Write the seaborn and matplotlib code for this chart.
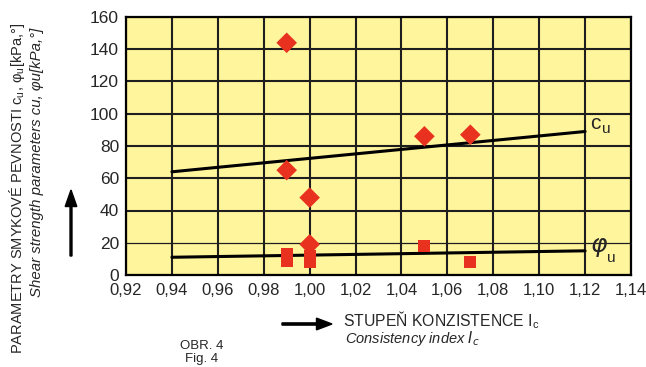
import matplotlib
matplotlib.use("Agg")
import matplotlib.pyplot as plt
import seaborn as sns
import pandas as pd

# measured points
cu_ic = [0.99, 0.99, 1.00, 1.00, 1.05, 1.07]
cu_val = [144, 65, 48, 19, 86, 87]
phi_ic = [0.99, 0.99, 1.00, 1.00, 1.05, 1.07]
phi_val = [13, 9, 12, 8, 18, 8]

# fitted trend lines
line_ic = [0.94, 1.12]
cu_line = [64, 89]
phi_line = [11, 15]

x_ticks = [0.92, 0.94, 0.96, 0.98, 1.00, 1.02, 1.04, 1.06, 1.08, 1.10, 1.12, 1.14]
y_ticks = [0, 20, 40, 60, 80, 100, 120, 140, 160]

sns.set_theme(style="white")
plt.rcParams["font.family"] = ["Liberation Sans", "DejaVu Sans"]

fig = plt.figure(figsize=(6.46, 3.67), dpi=100)
ax = fig.add_axes([126 / 646, 1 - 275 / 367, 505 / 646, 258 / 367])
ax.set_facecolor("#fff59c")

for xt in x_ticks:
    ax.axvline(xt, color="#1e1e1e", lw=1.5, zorder=1)
for yt in y_ticks:
    ax.axhline(yt, color="#1e1e1e", lw=0.9 if yt == 20 else 1.5, zorder=1)

lines = pd.DataFrame({"Ic": line_ic + line_ic,
                      "val": cu_line + phi_line,
                      "param": ["cu"] * 2 + ["phi"] * 2})
sns.lineplot(data=lines, x="Ic", y="val", units="param", estimator=None,
             color="black", lw=2.2, ax=ax, zorder=3)

red = "#e8321f"
sns.scatterplot(x=cu_ic, y=cu_val, marker="D", s=110, color=red,
                edgecolor="none", ax=ax, zorder=4)
sns.scatterplot(x=phi_ic, y=phi_val, marker="s", s=75, color=red,
                edgecolor="none", ax=ax, zorder=4)

ax.text(line_ic[1] + 0.002, cu_line[1] - 1, "c", fontsize=15, va="bottom", ha="left")
ax.text(line_ic[1] + 0.0075, cu_line[1] - 3, "u", fontsize=11, va="bottom", ha="left")
ax.text(line_ic[1] + 0.002, phi_line[1] - 5, r"$\varphi$", fontsize=18, va="bottom", ha="left")
ax.text(line_ic[1] + 0.0095, phi_line[1] - 9, "u", fontsize=11, va="bottom", ha="left")

ax.set_xlim(0.92, 1.14)
ax.set_ylim(0, 160)
ax.set_xticks(x_ticks)
ax.set_xticklabels([f"{v:.2f}".replace(".", ",") for v in x_ticks], fontsize=12)
ax.set_yticks(y_ticks)
ax.set_yticklabels([str(v) for v in y_ticks], fontsize=12.5)
ax.tick_params(length=0, pad=5)
ax.tick_params(axis="x", pad=6)
ax.set_xlabel("")
ax.set_ylabel("")
for sp in ax.spines.values():
    sp.set_color("black")
    sp.set_linewidth(1.6)

# y axis title
fig.text(17 / 646, 1 - 188 / 367,
         r"PARAMETRY SMYKOVÉ PEVNOSTI c$_\mathregular{u}$, φ$_\mathregular{u}$[kPa,°]",
         rotation=90, ha="center", va="center", fontsize=10.5)
fig.text(37 / 646, 1 - 162 / 367, "Shear strength parameters cu, φu[kPa,°]",
         rotation=90, ha="center", va="center", fontsize=10.8, style="italic")
fig.patches.append(matplotlib.patches.FancyArrow(
    71 / 646, 1 - 256 / 367, 0, 66 / 367, width=0.003, head_width=0.018,
    head_length=0.045, length_includes_head=True, color="black",
    transform=fig.transFigure, figure=fig))

# x axis title
fig.patches.append(matplotlib.patches.FancyArrow(
    282 / 646, 1 - 324 / 367, 50 / 646, 0, width=0.006, head_width=0.032,
    head_length=0.024, length_includes_head=True, color="black",
    transform=fig.transFigure, figure=fig))
fig.text(343 / 646, 1 - 320 / 367, r"STUPEŇ KONZISTENCE I$_\mathregular{c}$",
         ha="left", va="center", fontsize=11.3)
fig.text(345 / 646, 1 - 339 / 367, r"Consistency index $\mathit{I_c}$",
         ha="left", va="center", fontsize=10.5, style="italic")

fig.text(202 / 646, 1 - 346 / 367, "OBR. 4", ha="center", va="center", fontsize=9.5)
fig.text(202 / 646, 1 - 359 / 367, "Fig. 4", ha="center", va="center", fontsize=9.5)

fig.savefig("out.png", dpi=100)
